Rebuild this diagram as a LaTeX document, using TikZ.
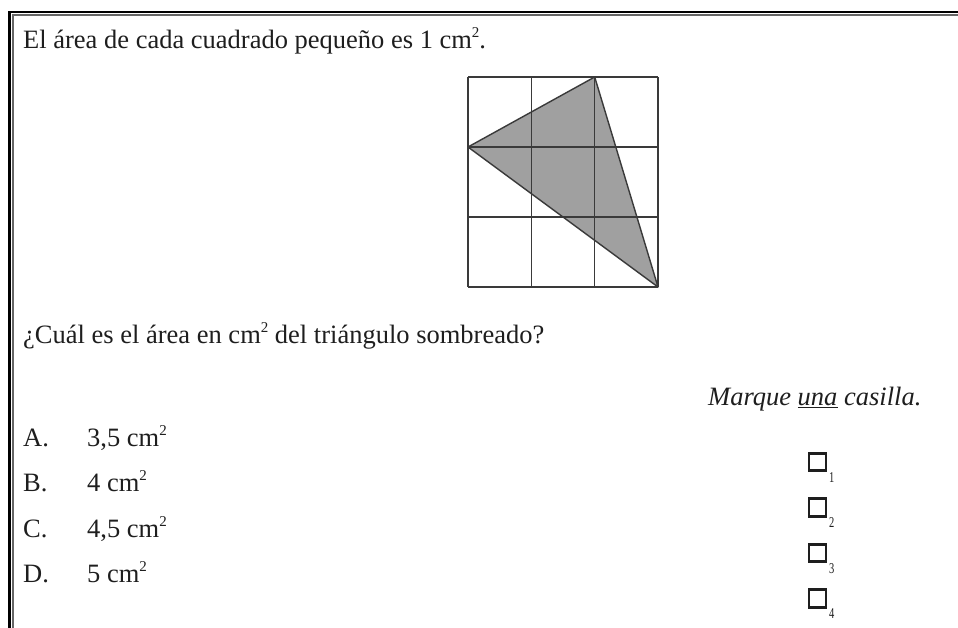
\documentclass[tikz,border=0pt]{standalone}
\usepackage{fontspec}
\setmainfont{Liberation Serif}
\definecolor{ink}{HTML}{1E1E1E}
\definecolor{gridc}{HTML}{3A3A3A}
\definecolor{trigray}{HTML}{A0A0A0}
\definecolor{framein}{HTML}{666666}
\newcommand{\sqsup}{\raisebox{0.40em}{\fontsize{15}{15}\selectfont 2}}
\begin{document}
\begin{tikzpicture}[x=1pt,y=-1pt,
  txt/.style={anchor=base west,inner sep=0pt,text=ink,font=\fontsize{26.5}{30}\selectfont},
  cbox/.style={draw=ink,line width=2.8pt,minimum width=17pt,minimum height=17.5pt,inner sep=0pt},
  subn/.style={anchor=base west,inner sep=0pt,text=ink,font=\fontsize{15}{15}\selectfont},
  gline/.style={draw=gridc,line width=1.5pt},
  triedge/.style={draw=gridc,line width=1.4pt,line join=round}]
\useasboundingbox (0,0) rectangle (958,627);
\fill[white] (0,0) rectangle (958,627);
% frame
\draw[line width=2.6pt,black] (9.5,640) -- (9.5,12) -- (970,12);
\draw[line width=2pt,framein] (13.2,640) -- (13.2,15.2) -- (970,15.2);
% texts
\node[txt] (t1) at (23,48) {El área de cada cuadrado pequeño es 1 cm\sqsup.};
\node[txt] (q) at (23,343) {¿Cuál es el área en cm\sqsup{} del triángulo sombreado?};
\node[txt] (mq) at (708,405) {\itshape Marque \underline{una} casilla.};
\node[txt] (la) at (23,446) {A.};
\node[txt] (va) at (87,446) {3,5 cm\sqsup};
\node[txt] (lb) at (23,491.5) {B.};
\node[txt] (vb) at (87,491.5) {4 cm\sqsup};
\node[txt] (lc) at (23,537) {C.};
\node[txt] (vc) at (87,537) {4,5 cm\sqsup};
\node[txt] (ld) at (23,582.5) {D.};
\node[txt] (vd) at (87,582.5) {5 cm\sqsup};
% checkboxes
\node[cbox] (b1) at (817.5,462) {};
\node[cbox] (b2) at (817.5,507.5) {};
\node[cbox] (b3) at (817.5,553) {};
\node[cbox] (b4) at (817.5,598.5) {};
\node[subn] (s1) at (829,482) {\scalebox{0.7}[1]{1}};
\node[subn] (s2) at (829,527.5) {\scalebox{0.7}[1]{2}};
\node[subn] (s3) at (829,573) {\scalebox{0.7}[1]{3}};
\node[subn] (s4) at (829,618.5) {\scalebox{0.7}[1]{4}};
% grid figure
\coordinate (pl) at (468,147);
\coordinate (pt) at (594.7,77);
\coordinate (pb) at (658,287);
\fill[trigray] (pl) -- (pt) -- (pb) -- cycle;
\foreach \gx in {468,531.33,594.67,658} {\draw[gline] (\gx,77) -- (\gx,287);}
\foreach \gy in {77,147,217,287} {\draw[gline] (468,\gy) -- (658,\gy);}
\draw[triedge] (pl) -- (pt) -- (pb) -- cycle;
\end{tikzpicture}
\end{document}
